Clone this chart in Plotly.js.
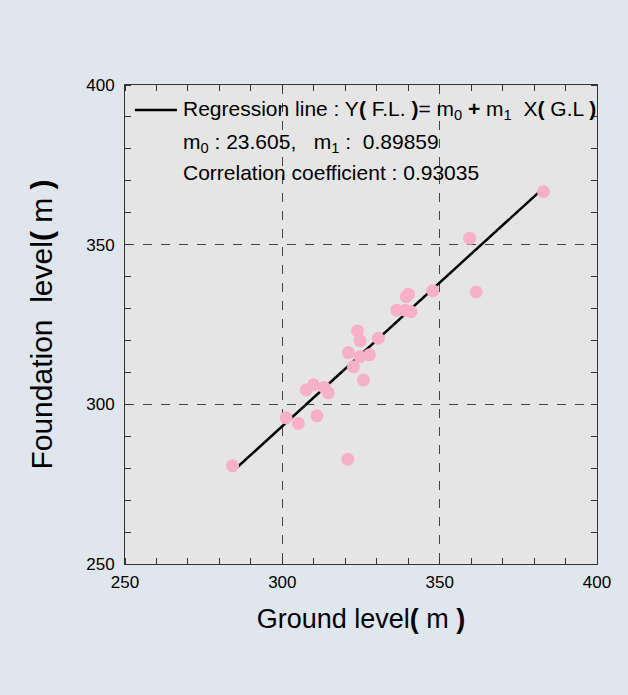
<!DOCTYPE html>
<html>
<head>
<meta charset="utf-8">
<script src="https://cdn.plot.ly/plotly-3.0.1.min.js"></script>
<style>html,body{margin:0;padding:0;background:#dfe6ee;}</style>
</head>
<body>
<div id="chart" style="width:628px;height:695px;"></div>
<script>
// Ground level (m)
const groundLevel = [383.0, 359.5, 361.6, 347.8, 340.1, 339.4, 336.4, 339.0, 340.9, 330.5,
                     323.9, 324.7, 321.0, 324.7, 327.7, 322.6, 325.8, 307.6, 309.9, 313.3,
                     314.6, 301.2, 305.1, 311.0, 320.8, 284.2];
// Foundation level (m)
const foundationLevel = [366.6, 352.0, 335.2, 335.6, 334.5, 333.7, 329.5, 329.5, 329.0, 320.7,
                         323.0, 319.9, 316.2, 314.9, 315.5, 311.8, 307.6, 304.5, 306.1, 305.3,
                         303.6, 295.8, 294.0, 296.4, 282.8, 280.8];
// Regression parameters
const m0 = 23.605;
const m1 = 0.89859;
const corr = 0.93035;
const regX = [285.5, 382.0];
const regY = regX.map(x => m0 + m1 * x);
const axisTicks = [250, 300, 350, 400];

const FONT = 'Liberation Sans, Arial, sans-serif';
const B = s => '<b>' + s + '</b>';

const traces = [
  {x: regX, y: regY, mode: 'lines', type: 'scatter',
   line: {color: '#000000', width: 2.5}, showlegend: false, hoverinfo: 'skip'},
  {x: groundLevel, y: foundationLevel, mode: 'markers', type: 'scatter',
   marker: {color: '#f7b0c8', size: 13, line: {width: 0}}, showlegend: false}
];

const axisCommon = {
  range: [250, 400], tickvals: axisTicks, ticks: '',
  showgrid: true, gridcolor: '#444444', griddash: 'dash', gridwidth: 1,
  zeroline: false, showline: true, linecolor: '#333333', linewidth: 1, mirror: 'ticks',
  minor: {dtick: 10, ticks: 'inside', ticklen: 6, tickcolor: '#333333', showgrid: false},
  tickfont: {family: FONT, size: 17, color: '#000000'}
};

const layout = {
  width: 628, height: 695,
  paper_bgcolor: '#dfe6ee', plot_bgcolor: '#e5e5e5',
  margin: {l: 125, r: 31, t: 85, b: 131},
  font: {family: FONT, color: '#000000'},
  xaxis: Object.assign({}, axisCommon, {
    ticklabelstandoff: 3,
    title: {text: 'Ground level' + B('(') + ' m ' + B(')'), font: {family: FONT, size: 27}, standoff: 17}
  }),
  yaxis: Object.assign({}, axisCommon, {
    ticklabelstandoff: 6,
    title: {text: 'Foundation  level' + B('(') + ' m ' + B(')'), font: {family: FONT, size: 30}, standoff: 24}
  }),
  shapes: [
    {type: 'rect', xref: 'paper', yref: 'paper', layer: 'between',
     x0: 0.01, x1: 0.99, y0: 0.792, y1: 0.966,
     fillcolor: '#e5e5e5', line: {width: 0}},
    {type: 'line', xref: 'paper', yref: 'paper', x0: 0.021, x1: 0.110, y0: 0.948, y1: 0.948,
     line: {color: '#000000', width: 2.5}}
  ],
  annotations: [
    {xref: 'paper', yref: 'paper', x: 0.118, y: 0.948, xanchor: 'left', yanchor: 'middle', showarrow: false,
     text: 'Regression line : Y' + B('(') + ' F.L. ' + B(')') + '= m<sub>0</sub> ' + B('+') + ' m<sub>1</sub>  X' + B('(') + ' G.L ' + B(')'),
     font: {family: FONT, size: 21, color: '#000000'}},
    {xref: 'paper', yref: 'paper', x: 0.118, y: 0.878, xanchor: 'left', yanchor: 'middle', showarrow: false,
     text: 'm<sub>0</sub> : ' + m0.toFixed(3) + ',   m<sub>1</sub> :  ' + m1.toFixed(5),
     font: {family: FONT, size: 21, color: '#000000'}},
    {xref: 'paper', yref: 'paper', x: 0.118, y: 0.818, xanchor: 'left', yanchor: 'middle', showarrow: false,
     text: 'Correlation coefficient : ' + corr.toFixed(5),
     font: {family: FONT, size: 21, color: '#000000'}}
  ]
};

Plotly.newPlot('chart', traces, layout, {displayModeBar: false, staticPlot: true});
</script>
</body>
</html>
